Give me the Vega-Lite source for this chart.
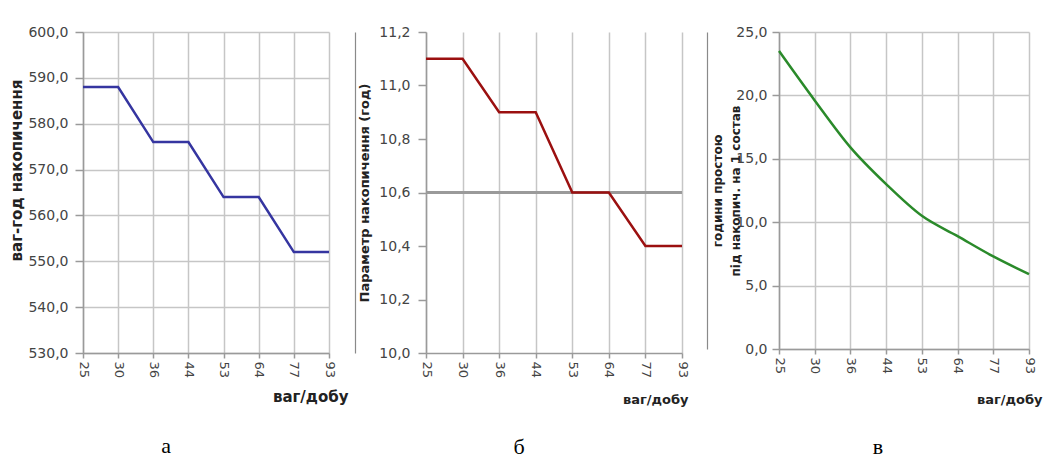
{
  "$schema": "https://vega.github.io/schema/vega-lite/v6.json",
  "autosize": {"type": "pad"},
  "padding": {"left": 9, "top": 25, "right": 2, "bottom": 0},
  "background": "white",
  "bounds": "flush",
  "spacing": 97,
  "config": {
    "locale": {"number": {"decimal": ",", "thousands": " ", "grouping": [3], "currency": ["", ""]}},
    "view": {"stroke": null},
    "font": "DejaVu Sans",
    "axis": {
      "gridColor": "#c6c6c6", "gridWidth": 1.5, "domainColor": "#9a9a9a", "domainWidth": 1.5, "tickColor": "#9a9a9a", "tickWidth": 1.5,
      "labelFont": "DejaVu Sans", "labelFontSize": 13, "labelColor": "#444444",
      "titleFont": "DejaVu Sans", "titleFontWeight": "bold", "titleColor": "#222222", "titleFontSize": 13
    },
    "title": {"font": "Liberation Serif", "fontSize": 22, "fontWeight": "normal", "color": "#000000"}
  },
  "datasets": {
    "d": [
      {"v": 25, "a": 588, "b": 11.1, "c": 23.5},
      {"v": 30, "a": 588, "b": 11.1, "c": 19.6},
      {"v": 36, "a": 576, "b": 10.9, "c": 15.9},
      {"v": 44, "a": 576, "b": 10.9, "c": 13.0},
      {"v": 53, "a": 564, "b": 10.6, "c": 10.5},
      {"v": 64, "a": 564, "b": 10.6, "c": 8.9},
      {"v": 77, "a": 552, "b": 10.4, "c": 7.3},
      {"v": 93, "a": 552, "b": 10.4, "c": 5.9}
    ]
  },
  "hconcat": [
    {
      "width": 246, "height": 321,
      "data": {"name": "d"},
      "title": {"text": "а", "orient": "bottom", "anchor": "middle", "frame": "group", "dx": -40, "offset": 49, "baseline": "alphabetic"},
      "mark": {"type": "line", "color": "#3535a0", "strokeWidth": 2.5},
      "encoding": {
        "x": {"field": "v", "type": "ordinal", "scale": {"type": "point", "padding": 0},
          "axis": {"grid": true, "labelAngle": 90, "tickSize": 5, "labelPadding": 3, "title": "ваг/добу", "titleX": 265, "titleY": 36, "titleAlign": "right", "titleBaseline": "top", "titleFontSize": 15}},
        "y": {"field": "a", "type": "quantitative", "scale": {"domain": [530, 600]},
          "axis": {"values": [530, 540, 550, 560, 570, 580, 590, 600], "format": ".1f", "labelFontSize": 14, "tickSize": 8, "labelPadding": 7, "title": "ваг-год накопичення", "titlePadding": 3, "titleY": 138, "titleFontSize": 15}}
      }
    },
    {
      "width": 256, "height": 321,
      "data": {"name": "d"},
      "title": {"text": "б", "orient": "bottom", "anchor": "middle", "frame": "group", "dx": -35, "offset": 48, "baseline": "alphabetic"},
      "resolve": {"axis": {"y": "independent"}},
      "layer": [
        {
          "mark": {"type": "rule", "color": "#9a9a9a", "strokeWidth": 2},
          "encoding": {"y": {"datum": 10.6, "type": "quantitative", "scale": {"domain": [10.0, 11.2]}, "axis": null}}
        },
        {
          "mark": {"type": "line", "color": "#9b1010", "strokeWidth": 2.5},
          "encoding": {
            "x": {"field": "v", "type": "ordinal", "scale": {"type": "point", "padding": 0},
              "axis": {"grid": true, "labelAngle": 90, "tickSize": 5, "labelPadding": 3, "title": "ваг/добу", "titleX": 262, "titleY": 40, "titleAlign": "right", "titleBaseline": "top", "titleFontSize": 13}},
            "y": {"field": "b", "type": "quantitative", "scale": {"domain": [10.0, 11.2]},
              "axis": {"values": [10.0, 10.2, 10.4, 10.6, 10.8, 11.0, 11.2], "format": ".1f", "labelFontSize": 14, "tickSize": 8, "labelPadding": 8, "title": "Параметр накопичення (год)", "titlePadding": 7, "titleFontSize": 13}}
          }
        },
        {
          "mark": {"type": "line", "opacity": 0},
          "encoding": {
            "x": {"field": "v", "type": "ordinal"},
            "y": {"field": "b", "type": "quantitative", "scale": {"domain": [10.0, 11.2]},
              "axis": {"orient": "left", "offset": 71, "labels": false, "ticks": false, "grid": false, "title": null, "domainColor": "#8a8a8a", "domainWidth": 1.2}}
          }
        }
      ]
    },
    {
      "width": 250, "height": 317,
      "data": {"name": "d"},
      "title": {"text": "в", "orient": "bottom", "anchor": "middle", "frame": "group", "dx": -26, "offset": 48, "baseline": "alphabetic"},
      "resolve": {"axis": {"y": "independent"}},
      "layer": [
        {
          "mark": {"type": "line", "color": "#2a8a2a", "strokeWidth": 2.5, "interpolate": "monotone"},
          "encoding": {
            "x": {"field": "v", "type": "ordinal", "scale": {"type": "point", "padding": 0},
              "axis": {"grid": true, "labelAngle": 90, "tickSize": 5, "labelPadding": 3, "title": "ваг/добу", "titleX": 263, "titleY": 44, "titleAlign": "right", "titleBaseline": "top", "titleFontSize": 13}},
            "y": {"field": "c", "type": "quantitative", "scale": {"domain": [0, 25]},
              "axis": {"values": [0, 5, 10, 15, 20, 25], "format": ".1f", "labelFontSize": 14, "tickSize": 7, "labelPadding": 5, "title": ["години простою", "під накопич. на 1 состав"], "titlePadding": -7, "titleFontSize": 12, "titleLineHeight": 18}}
          }
        },
        {
          "mark": {"type": "line", "opacity": 0},
          "encoding": {
            "x": {"field": "v", "type": "ordinal"},
            "y": {"field": "c", "type": "quantitative", "scale": {"domain": [0, 25]},
              "axis": {"orient": "left", "offset": 72, "labels": false, "ticks": false, "grid": false, "title": null, "domainColor": "#8a8a8a", "domainWidth": 1.2}}
          }
        }
      ]
    }
  ]
}
